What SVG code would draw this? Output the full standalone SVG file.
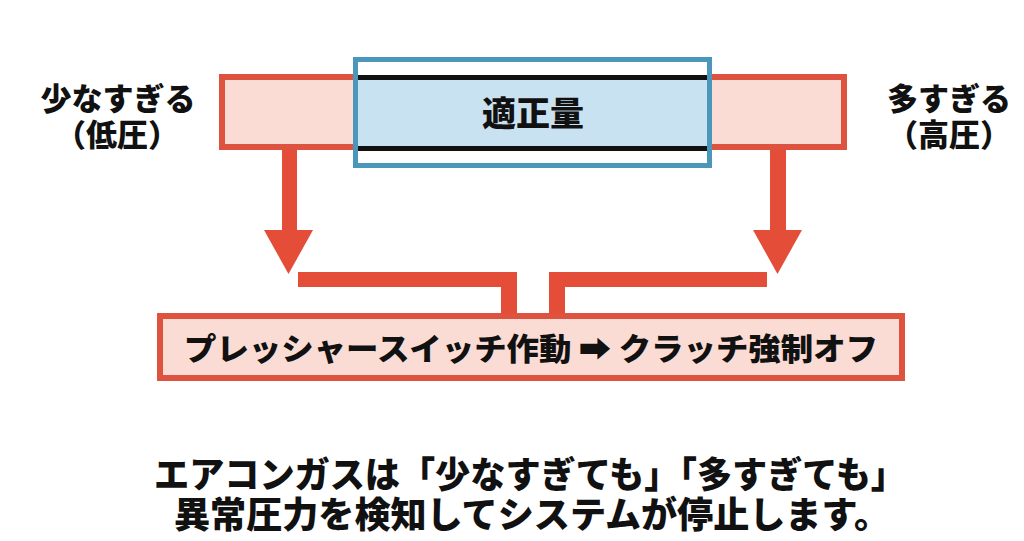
<svg xmlns="http://www.w3.org/2000/svg" width="1024" height="541" viewBox="0 0 1024 541">
<style>
.t{font-family:"Noto Sans CJK JP","Noto Sans",sans-serif;font-weight:900;fill:#111;}
.red{fill:#fbdcd4;stroke:#dd5340;stroke-width:6;}
.conn{fill:#e44d37;}
</style>
<rect width="1024" height="541" fill="#fff"/>
<g id="range-bar">
<rect class="red" x="222" y="77" width="622" height="70"/>
</g>
<g id="low-label">
<text class="t" x="118" y="110" font-size="31" text-anchor="middle">少なすぎる</text>
<text class="t" x="117" y="146" font-size="31" text-anchor="middle">（低圧）</text>
</g>
<g id="high-label">
<text class="t" x="949" y="110" font-size="31" text-anchor="middle">多すぎる</text>
<text class="t" x="949" y="146" font-size="31" text-anchor="middle">（高圧）</text>
</g>
<g id="proper">
<rect x="355.5" y="59.5" width="354" height="106" fill="#fff" stroke="#4b97bb" stroke-width="5"/>
<rect x="358" y="80" width="349" height="66" fill="#c9e2f1"/>
<rect x="358" y="75" width="349" height="5" fill="#111"/>
<rect x="358" y="146" width="349" height="5" fill="#111"/>
<text class="t" x="533" y="126" font-size="34" text-anchor="middle">適正量</text>
</g>
<g id="connectors">
<rect class="conn" x="282" y="150" width="15" height="82"/>
<polygon class="conn" points="264,230 313,230 288.5,274"/>
<rect class="conn" x="770" y="150" width="16" height="82"/>
<polygon class="conn" points="753,230 802,230 777.5,274"/>
<path class="conn" d="M298,272 H517 V316 H501 V287 H298 Z"/>
<path class="conn" d="M767,272 H549 V316 H565 V287 H767 Z"/>
</g>
<g id="switch">
<rect class="red" x="160" y="316" width="742" height="62"/>
<text class="t" x="531" y="360" font-size="31" text-anchor="middle" textLength="694" lengthAdjust="spacingAndGlyphs">プレッシャースイッチ作動 ➡ クラッチ強制オフ</text>
</g>
<g id="caption">
<text class="t" x="530" y="488" font-size="36" text-anchor="middle" textLength="752" lengthAdjust="spacingAndGlyphs">エアコンガスは「少なすぎても」「多すぎても」</text>
<text class="t" x="532" y="528" font-size="36" text-anchor="middle" textLength="716" lengthAdjust="spacingAndGlyphs">異常圧力を検知してシステムが停止します。</text>
</g>
</svg>
